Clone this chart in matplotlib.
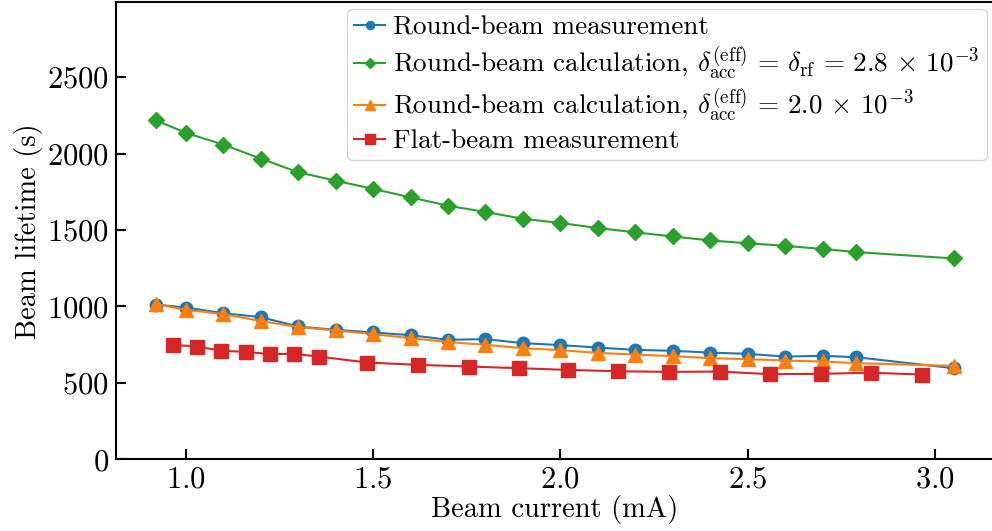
import matplotlib
matplotlib.use("Agg")
import matplotlib.pyplot as plt

plt.rcParams['font.family'] = 'serif'
plt.rcParams['font.serif'] = ['cmr10']
plt.rcParams['mathtext.fontset'] = 'cm'
plt.rcParams['axes.formatter.use_mathtext'] = True
plt.rcParams['axes.unicode_minus'] = False

# Round-beam data (shared current axis)
current_round = [0.92, 1.0, 1.1, 1.2, 1.3, 1.4, 1.5, 1.6, 1.7, 1.8, 1.9, 2.0,
                 2.1, 2.2, 2.3, 2.4, 2.5, 2.6, 2.7, 2.79, 3.05]
round_meas = [1012, 993, 956, 930, 869, 847, 830, 812, 782, 786, 760, 747,
              731, 716, 710, 698, 690, 672, 677, 668, 596]
round_calc_rf = [2218, 2136, 2059, 1967, 1878, 1823, 1769, 1714, 1659, 1618, 1574, 1546,
                 1513, 1485, 1458, 1432, 1413, 1397, 1376, 1356, 1314]
round_calc_20 = [1015, 978, 950, 905, 865, 843, 819, 793, 767, 749, 727, 714,
                 696, 685, 675, 662, 655, 646, 640, 629, 611]

# Flat-beam data
current_flat = [0.965, 1.03, 1.095, 1.16, 1.225, 1.29, 1.355, 1.485, 1.62, 1.755,
                1.89, 2.02, 2.155, 2.29, 2.425, 2.56, 2.695, 2.83, 2.965]
flat_meas = [749, 738, 710, 703, 688, 690, 672, 633, 618, 607,
             596, 585, 576, 572, 574, 557, 559, 567, 554]

labels = [
    'Round-beam measurement',
    r'Round-beam calculation, $\delta_{\mathrm{acc}}^{(\mathrm{eff})} \,=\, \delta_{\mathrm{rf}} \,=\, 2.8 \,\times\, 10^{-3}$',
    r'Round-beam calculation, $\delta_{\mathrm{acc}}^{(\mathrm{eff})} \,=\, 2.0 \,\times\, 10^{-3}$',
    'Flat-beam measurement',
]

fig = plt.figure(figsize=(9.92, 5.31), dpi=100)
W, H = 992, 531
ax = fig.add_axes([116 / W, (H - 459.3) / H, (993.5 - 116) / W, (459.3 - 2.3) / H])

lw = 1.5
ax.plot(current_round, round_meas, '-o', color='#1f77b4', lw=lw, ms=9, label=labels[0])
ax.plot(current_round, round_calc_rf, '-D', color='#2ca02c', lw=lw, ms=8, label=labels[1])
ax.plot(current_round, round_calc_20, '-^', color='#ff7f0e', lw=lw, ms=10, label=labels[2])
ax.plot(current_flat, flat_meas, '-s', color='#d62728', lw=lw, ms=10, label=labels[3])

ax.set_ylim(0, 2990)
ax.set_yticks([0, 500, 1000, 1500, 2000, 2500])
ax.set_xticks([1.0, 1.5, 2.0, 2.5, 3.0])
ax.tick_params(direction='in', length=7, width=1.5, labelsize=22, pad=5)
for s in ax.spines.values():
    s.set_linewidth(1.5)

ax.set_xlabel('Beam current (mA)', fontsize=20.5, labelpad=1)
ax.set_ylabel('Beam lifetime (s)', fontsize=20.5, labelpad=3)

leg = ax.legend(loc='upper right', fontsize=19.5, handlelength=1.15, markerscale=0.65,
                borderaxespad=0.25, labelspacing=0.18, handletextpad=0.3,
                borderpad=0.25)

fig.savefig('out.png', dpi=100)
